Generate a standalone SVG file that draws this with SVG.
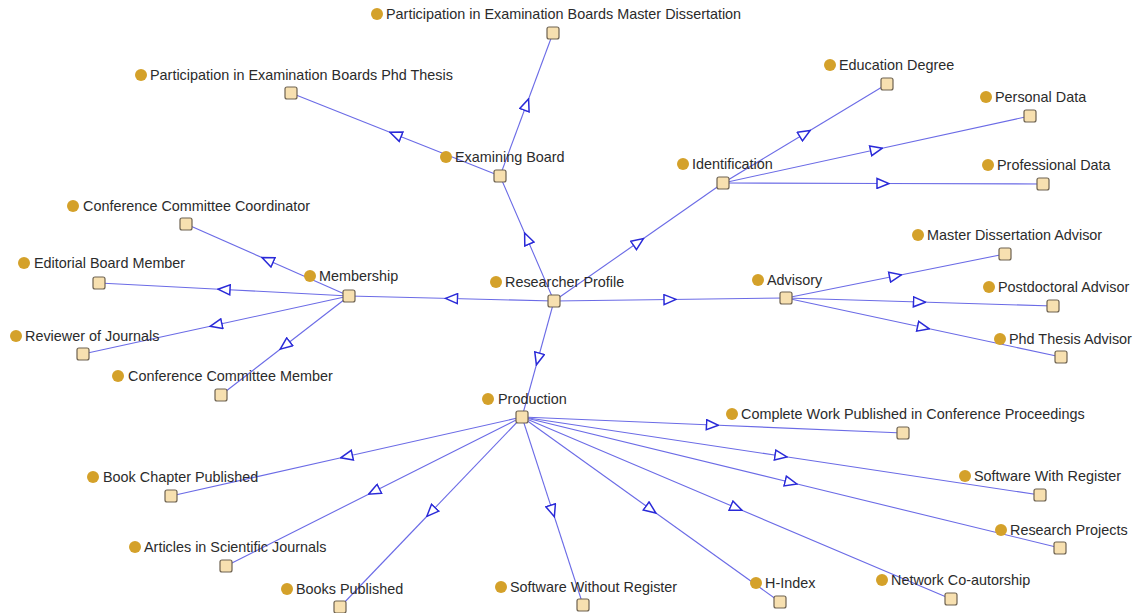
<svg xmlns="http://www.w3.org/2000/svg" width="1137" height="613" viewBox="0 0 1137 613">
<style>
.e{fill:none;stroke:#6b6be6;stroke-width:1.1;marker-mid:url(#tri)}
.d{fill:#d4a12a}
.s{fill:#f7e0b0;stroke:#6e6250;stroke-width:1.2}
.t{font-family:"Liberation Sans",Arial,sans-serif;font-size:14.4px;fill:#2b2b2b}
</style>
<defs>
<marker id="tri" viewBox="0 0 14 12" refX="7" refY="6" markerWidth="14" markerHeight="12" markerUnits="userSpaceOnUse" orient="auto">
<path d="M1,1 L13,6 L1,11 Z" fill="#ffffff" stroke="#2a2ad8" stroke-width="1.5"/>
</marker>
</defs>
<rect width="1137" height="613" fill="#ffffff"/>
<g id="connectors">
<polyline class="e" points="554,301 527,238.5 500,176"/>
<polyline class="e" points="554,301 638.5,242 723,183"/>
<polyline class="e" points="554,301 451.5,298.5 349,296"/>
<polyline class="e" points="554,301 670,299.5 786,298"/>
<polyline class="e" points="554,301 538,359 522,417"/>
<polyline class="e" points="500,176 526.5,104.5 553,33"/>
<polyline class="e" points="500,176 395.5,134.5 291,93"/>
<polyline class="e" points="723,183 805,133.5 887,84"/>
<polyline class="e" points="723,183 876.5,149.5 1030,116"/>
<polyline class="e" points="723,183 883,183.5 1043,184"/>
<polyline class="e" points="349,296 267.5,260 186,224"/>
<polyline class="e" points="349,296 224,289.5 99,283"/>
<polyline class="e" points="349,296 216,325 83,354"/>
<polyline class="e" points="349,296 285,345.5 221,395"/>
<polyline class="e" points="786,298 895.5,276 1005,254"/>
<polyline class="e" points="786,298 919.5,302 1053,306"/>
<polyline class="e" points="786,298 923.5,327.5 1061,357"/>
<polyline class="e" points="522,417 712.5,425 903,433"/>
<polyline class="e" points="522,417 781,456 1040,495"/>
<polyline class="e" points="522,417 791,482.5 1060,548"/>
<polyline class="e" points="522,417 736.5,508 951,599"/>
<polyline class="e" points="522,417 651,509.5 780,602"/>
<polyline class="e" points="522,417 552.5,511 583,605"/>
<polyline class="e" points="522,417 431,512 340,607"/>
<polyline class="e" points="522,417 374,491.5 226,566"/>
<polyline class="e" points="522,417 346.5,456.5 171,496"/>
</g>
<g id="researcher-profile"><circle class="d" cx="496" cy="282" r="6"/><text class="t" x="505" y="287">Researcher Profile</text><rect class="s" x="548" y="295" width="12" height="12" rx="2"/></g>
<g id="production"><circle class="d" cx="488" cy="399" r="6"/><text class="t" x="498" y="404">Production</text><rect class="s" x="516" y="411" width="12" height="12" rx="2"/></g>
<g id="membership"><circle class="d" cx="310" cy="276" r="6"/><text class="t" x="319" y="281">Membership</text><rect class="s" x="343" y="290" width="12" height="12" rx="2"/></g>
<g id="advisory"><circle class="d" cx="758" cy="280" r="6"/><text class="t" x="767" y="285">Advisory</text><rect class="s" x="780" y="292" width="12" height="12" rx="2"/></g>
<g id="identification"><circle class="d" cx="683" cy="164" r="6"/><text class="t" x="692" y="169">Identification</text><rect class="s" x="717" y="177" width="12" height="12" rx="2"/></g>
<g id="examining-board"><circle class="d" cx="446" cy="157" r="6"/><text class="t" x="455" y="162">Examining Board</text><rect class="s" x="494" y="170" width="12" height="12" rx="2"/></g>
<g id="participation-master"><circle class="d" cx="377" cy="14" r="6"/><text class="t" x="386" y="19">Participation in Examination Boards Master Dissertation</text><rect class="s" x="547" y="27" width="12" height="12" rx="2"/></g>
<g id="participation-phd"><circle class="d" cx="141" cy="75" r="6"/><text class="t" x="150" y="80">Participation in Examination Boards Phd Thesis</text><rect class="s" x="285" y="87" width="12" height="12" rx="2"/></g>
<g id="education-degree"><circle class="d" cx="830" cy="65" r="6"/><text class="t" x="839" y="70">Education Degree</text><rect class="s" x="881" y="78" width="12" height="12" rx="2"/></g>
<g id="personal-data"><circle class="d" cx="986" cy="97" r="6"/><text class="t" x="995" y="102">Personal Data</text><rect class="s" x="1024" y="110" width="12" height="12" rx="2"/></g>
<g id="professional-data"><circle class="d" cx="988" cy="165" r="6"/><text class="t" x="997" y="170">Professional Data</text><rect class="s" x="1037" y="178" width="12" height="12" rx="2"/></g>
<g id="conference-committee-coordinator"><circle class="d" cx="73" cy="206" r="6"/><text class="t" x="83" y="211">Conference Committee Coordinator</text><rect class="s" x="180" y="218" width="12" height="12" rx="2"/></g>
<g id="editorial-board-member"><circle class="d" cx="24" cy="263" r="6"/><text class="t" x="34" y="268">Editorial Board Member</text><rect class="s" x="93" y="277" width="12" height="12" rx="2"/></g>
<g id="reviewer-of-journals"><circle class="d" cx="16" cy="336" r="6"/><text class="t" x="25" y="341">Reviewer of Journals</text><rect class="s" x="77" y="348" width="12" height="12" rx="2"/></g>
<g id="conference-committee-member"><circle class="d" cx="118" cy="376" r="6"/><text class="t" x="128" y="381">Conference Committee Member</text><rect class="s" x="215" y="389" width="12" height="12" rx="2"/></g>
<g id="master-dissertation-advisor"><circle class="d" cx="918" cy="235" r="6"/><text class="t" x="927" y="240">Master Dissertation Advisor</text><rect class="s" x="999" y="248" width="12" height="12" rx="2"/></g>
<g id="postdoctoral-advisor"><circle class="d" cx="989" cy="287" r="6"/><text class="t" x="998" y="292">Postdoctoral Advisor</text><rect class="s" x="1047" y="300" width="12" height="12" rx="2"/></g>
<g id="phd-thesis-advisor"><circle class="d" cx="1000" cy="339" r="6"/><text class="t" x="1009" y="344">Phd Thesis Advisor</text><rect class="s" x="1055" y="351" width="12" height="12" rx="2"/></g>
<g id="complete-work"><circle class="d" cx="732" cy="414" r="6"/><text class="t" x="741" y="419">Complete Work Published in Conference Proceedings</text><rect class="s" x="897" y="427" width="12" height="12" rx="2"/></g>
<g id="software-with-register"><circle class="d" cx="965" cy="476" r="6"/><text class="t" x="974" y="481">Software With Register</text><rect class="s" x="1034" y="489" width="12" height="12" rx="2"/></g>
<g id="research-projects"><circle class="d" cx="1001" cy="530" r="6"/><text class="t" x="1010" y="535">Research Projects</text><rect class="s" x="1054" y="542" width="12" height="12" rx="2"/></g>
<g id="network-coautorship"><circle class="d" cx="882" cy="580" r="6"/><text class="t" x="891" y="585">Network Co-autorship</text><rect class="s" x="945" y="593" width="12" height="12" rx="2"/></g>
<g id="h-index"><circle class="d" cx="756" cy="583" r="6"/><text class="t" x="765" y="588">H-Index</text><rect class="s" x="774" y="596" width="12" height="12" rx="2"/></g>
<g id="software-without-register"><circle class="d" cx="501" cy="587" r="6"/><text class="t" x="510" y="592">Software Without Register</text><rect class="s" x="577" y="599" width="12" height="12" rx="2"/></g>
<g id="books-published"><circle class="d" cx="287" cy="589" r="6"/><text class="t" x="296" y="594">Books Published</text><rect class="s" x="334" y="601" width="12" height="12" rx="2"/></g>
<g id="articles-in-scientific-journals"><circle class="d" cx="135" cy="547" r="6"/><text class="t" x="144" y="552">Articles in Scientific Journals</text><rect class="s" x="220" y="560" width="12" height="12" rx="2"/></g>
<g id="book-chapter-published"><circle class="d" cx="93" cy="477" r="6"/><text class="t" x="103" y="482">Book Chapter Published</text><rect class="s" x="165" y="490" width="12" height="12" rx="2"/></g>
</svg>
